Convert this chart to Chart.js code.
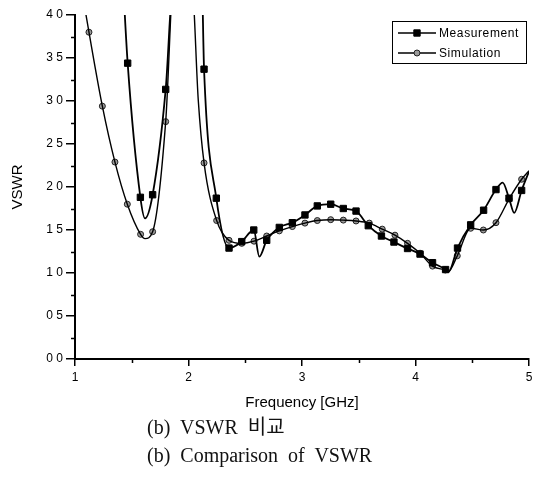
<!DOCTYPE html>
<html>
<head>
<meta charset="utf-8">
<script src="https://cdn.jsdelivr.net/npm/chart.js@4.4.0/dist/chart.umd.min.js"></script>
<style>
  body { margin: 0; background: #fff; }
  #wrap { position: relative; width: 541px; height: 416px; }
  .cap { position: absolute; left: 147px; font-family: 'Liberation Serif', 'Times New Roman', 'Noto Sans CJK KR', serif; font-size: 20px; line-height: 28px; color: #111; word-spacing: 5px; white-space: nowrap; }
</style>
</head>
<body>
<div id="wrap"><canvas id="graficoVswr"></canvas></div>
<div class="cap" style="top:413px">(b) VSWR 비교</div>
<div class="cap" style="top:441px">(b) Comparison of VSWR</div>
<script>
// etiquetas de los ejes
const xTickLabels = ['1', '2', '3', '4', '5'];
const yTickLabels = ['0 0', '0 5', '1 0', '1 5', '2 0', '2 5', '3 0', '3 5', '4 0'];

// Measurement: puntos con marcador
const measMarkFreq = [1.464, 1.576, 1.684, 1.799, 2.137, 2.245, 2.357, 2.469, 2.575, 2.689, 2.800, 2.915, 3.026, 3.135, 3.253, 3.364, 3.476, 3.584, 3.700, 3.810, 3.930, 4.040, 4.150, 4.265, 4.370, 4.486, 4.600, 4.709, 4.824, 4.935];
const measMarkVswr = [3.44, 1.88, 1.91, 3.135, 3.37, 1.87, 1.29, 1.365, 1.50, 1.38, 1.53, 1.585, 1.675, 1.78, 1.80, 1.75, 1.72, 1.55, 1.43, 1.36, 1.285, 1.22, 1.12, 1.04, 1.29, 1.56, 1.73, 1.97, 1.87, 1.96];
// Measurement: puntos de la curva sin marcador
const measCurveFreq = [1.42, 1.617, 1.87, 2.115, 2.624, 4.29, 4.768, 4.87, 5.0];
const measCurveVswr = [4.46, 1.635, 4.45, 4.5, 1.19, 1.01, 2.05, 1.70, 2.18];

// Simulation: puntos con marcador
const simMarkFreq = [1.123, 1.241, 1.352, 1.461, 1.578, 1.684, 1.799, 2.137, 2.248, 2.357, 2.469, 2.577, 2.689, 2.800, 2.915, 3.026, 3.135, 3.253, 3.364, 3.476, 3.593, 3.707, 3.819, 3.930, 4.040, 4.150, 4.263, 4.368, 4.486, 4.598, 4.709, 4.824, 4.935];
const simMarkVswr = [3.80, 2.94, 2.29, 1.80, 1.45, 1.48, 2.76, 2.28, 1.61, 1.38, 1.345, 1.37, 1.43, 1.49, 1.54, 1.58, 1.61, 1.62, 1.615, 1.605, 1.58, 1.51, 1.44, 1.345, 1.23, 1.08, 1.035, 1.20, 1.52, 1.50, 1.585, 1.86, 2.09];
// Simulation: puntos de la curva sin marcador
const simCurveFreq = [1.0, 1.617, 1.88, 2.03, 2.086, 4.29, 5.0];
const simCurveVswr = [4.75, 1.40, 4.65, 4.40, 3.01, 1.02, 2.19];

function puntos(fx, fy) {
  return fx.map((x, i) => ({ x: x, y: fy[i] }));
}
function curva(mx, my, cx, cy) {
  return puntos(mx, my).concat(puntos(cx, cy)).sort((a, b) => a.x - b.x);
}

const fuente = "'Liberation Sans', Arial, sans-serif";

// marcas menores de los ejes
const marcasMenores = {
  id: 'marcasMenores',
  afterDraw(chart) {
    const { ctx, chartArea, scales } = chart;
    ctx.save();
    ctx.strokeStyle = '#000';
    ctx.lineWidth = 1.5;
    ctx.beginPath();
    for (let v = 0.25; v < 4; v += 0.5) {
      const py = Math.round(scales.y.getPixelForValue(v)) + 0.5;
      ctx.moveTo(chartArea.left, py);
      ctx.lineTo(chartArea.left - 4, py);
    }
    for (let v = 1.5; v < 5; v += 1) {
      const px = Math.round(scales.x.getPixelForValue(v)) + 0.5;
      ctx.moveTo(px, chartArea.bottom);
      ctx.lineTo(px, chartArea.bottom + 4);
    }
    ctx.stroke();
    ctx.restore();
  }
};

// leyenda con linea + marcador
const leyenda = {
  id: 'leyenda',
  afterDraw(chart) {
    const ctx = chart.ctx;
    ctx.save();
    ctx.strokeStyle = '#000';
    ctx.lineWidth = 1;
    ctx.strokeRect(392.5, 21.5, 134, 42);
    const filas = [
      { ds: chart.data.datasets[1], y: 33 },
      { ds: chart.data.datasets[3], y: 53 }
    ];
    filas.forEach(f => {
      ctx.strokeStyle = '#000';
      ctx.lineWidth = 1.5;
      ctx.beginPath();
      ctx.moveTo(398, f.y);
      ctx.lineTo(436, f.y);
      ctx.stroke();
      ctx.fillStyle = f.ds.backgroundColor;
      ctx.strokeStyle = f.ds.borderColor;
      ctx.lineWidth = 1;
      Chart.helpers.drawPoint(ctx, { pointStyle: f.ds.pointStyle, radius: f.ds.pointRadius, borderWidth: 1, rotation: 0 }, 417, f.y);
      ctx.fillStyle = '#000';
      ctx.font = '12px ' + fuente;
      ctx.letterSpacing = '0.6px';
      ctx.textBaseline = 'middle';
      ctx.fillText(f.ds.label, 439, f.y + 1);
    });
    ctx.restore();
  }
};

new Chart(document.getElementById('graficoVswr'), {
  type: 'line',
  data: {
    datasets: [
      {
        label: 'Measurement',
        data: curva(measMarkFreq, measMarkVswr, measCurveFreq, measCurveVswr),
        borderColor: '#000',
        borderWidth: 1.8,
        pointRadius: 0,
        cubicInterpolationMode: 'monotone'
      },
      {
        label: 'Measurement',
        data: puntos(measMarkFreq, measMarkVswr),
        showLine: false,
        pointStyle: 'rect',
        pointRadius: 4.5,
        backgroundColor: '#000',
        borderColor: '#000',
        borderWidth: 1
      },
      {
        label: 'Simulation',
        data: curva(simMarkFreq, simMarkVswr, simCurveFreq, simCurveVswr),
        borderColor: '#000',
        borderWidth: 1.4,
        pointRadius: 0,
        cubicInterpolationMode: 'monotone'
      },
      {
        label: 'Simulation',
        data: puntos(simMarkFreq, simMarkVswr),
        showLine: false,
        pointStyle: 'circle',
        pointRadius: 3,
        backgroundColor: '#9a9a9a',
        borderColor: '#222',
        borderWidth: 1
      }
    ]
  },
  options: {
    responsive: true,
    maintainAspectRatio: false,
    animation: false,
    layout: { padding: { top: 15, right: 12, left: 0, bottom: 0 } },
    plugins: {
      legend: { display: false },
      tooltip: { enabled: false }
    },
    scales: {
      x: {
        type: 'linear',
        min: 1,
        max: 5,
        afterFit: s => { s.height = 57; },
        ticks: {
          stepSize: 1,
          padding: 4,
          color: '#000',
          font: { family: fuente, size: 12 },
          callback: (v, i) => xTickLabels[i]
        },
        grid: { drawOnChartArea: false, drawTicks: true, tickLength: 7, color: '#000', lineWidth: 1.5 },
        border: { display: true, color: '#000', width: 2 },
        title: {
          display: true,
          text: 'Frequency [GHz]',
          color: '#000',
          font: { family: fuente, size: 15 },
          padding: { top: 4, bottom: 4 }
        }
      },
      y: {
        min: 0,
        max: 4,
        afterFit: s => { s.width = 75; },
        ticks: {
          stepSize: 0.5,
          padding: 3,
          color: '#000',
          font: { family: fuente, size: 12 },
          callback: (v, i) => yTickLabels[i]
        },
        grid: { drawOnChartArea: false, drawTicks: true, tickLength: 9, color: '#000', lineWidth: 1.5 },
        border: { display: true, color: '#000', width: 2 },
        title: {
          display: true,
          text: 'VSWR',
          color: '#000',
          font: { family: fuente, size: 15 },
          padding: { top: 9, bottom: 4 }
        }
      }
    }
  },
  plugins: [marcasMenores, leyenda]
});
</script>
</body>
</html>
